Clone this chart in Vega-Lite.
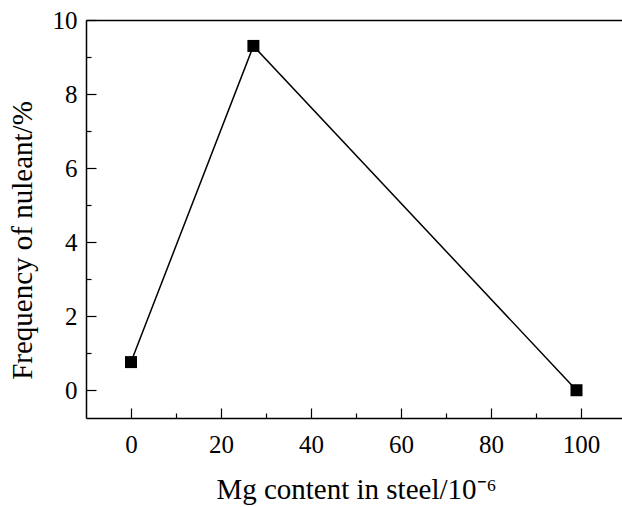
{
  "$schema": "https://vega.github.io/schema/vega-lite/v6.json",
  "width": 540,
  "height": 398,
  "autosize": "none",
  "padding": {"left": 86, "top": 20, "right": 0, "bottom": 89},
  "background": "white",
  "config": {
    "view": {"stroke": null},
    "font": "Liberation Serif",
    "axis": {
      "grid": false,
      "domainColor": "black",
      "domainWidth": 1.5,
      "tickColor": "black",
      "tickWidth": 1.2,
      "labelColor": "black",
      "titleColor": "black",
      "labelFont": "Liberation Serif",
      "titleFont": "Liberation Serif",
      "labelFontSize": 25,
      "titleFontSize": 29,
      "titleFontWeight": "normal"
    }
  },
  "data": {
    "values": [
      {"mg": 0, "freq": 0.76},
      {"mg": 27.2, "freq": 9.3},
      {"mg": 99, "freq": 0.0}
    ]
  },
  "resolve": {"axis": {"x": "independent", "y": "independent"}},
  "layer": [
    {
      "mark": {"type": "line", "color": "black", "strokeWidth": 1.5},
      "encoding": {
        "x": {
          "field": "mg", "type": "quantitative",
          "scale": {"domain": [-10, 110], "nice": false, "zero": false},
          "axis": {"orient": "bottom", "values": [0, 20, 40, 60, 80, 100], "tickSize": -10, "labelPadding": 24, "title": "Mg content in steel/10⁻⁶", "titlePadding": 18}
        },
        "y": {
          "field": "freq", "type": "quantitative",
          "scale": {"domain": [-0.75, 10], "nice": false, "zero": false},
          "axis": {"orient": "left", "values": [0, 2, 4, 6, 8, 10], "tickSize": -10, "labelPadding": 19, "title": "Frequency of nuleant/%", "titlePadding": 15, "titleY": 220}
        }
      }
    },
    {
      "mark": {"type": "point", "shape": "square", "filled": true, "size": 144, "color": "black", "opacity": 1},
      "encoding": {
        "x": {
          "field": "mg", "type": "quantitative",
          "axis": {"orient": "bottom", "values": [10, 30, 50, 70, 90], "tickSize": -5, "labels": false, "domain": false, "title": null}
        },
        "y": {
          "field": "freq", "type": "quantitative",
          "axis": {"orient": "left", "values": [1, 3, 5, 7, 9], "tickSize": -5, "labels": false, "domain": false, "title": null}
        }
      }
    },
    {
      "mark": {"type": "point", "opacity": 0},
      "encoding": {
        "x": {
          "field": "mg", "type": "quantitative",
          "axis": {"orient": "top", "ticks": false, "labels": false, "title": null}
        },
        "y": {
          "field": "freq", "type": "quantitative",
          "axis": null
        }
      }
    }
  ]
}
